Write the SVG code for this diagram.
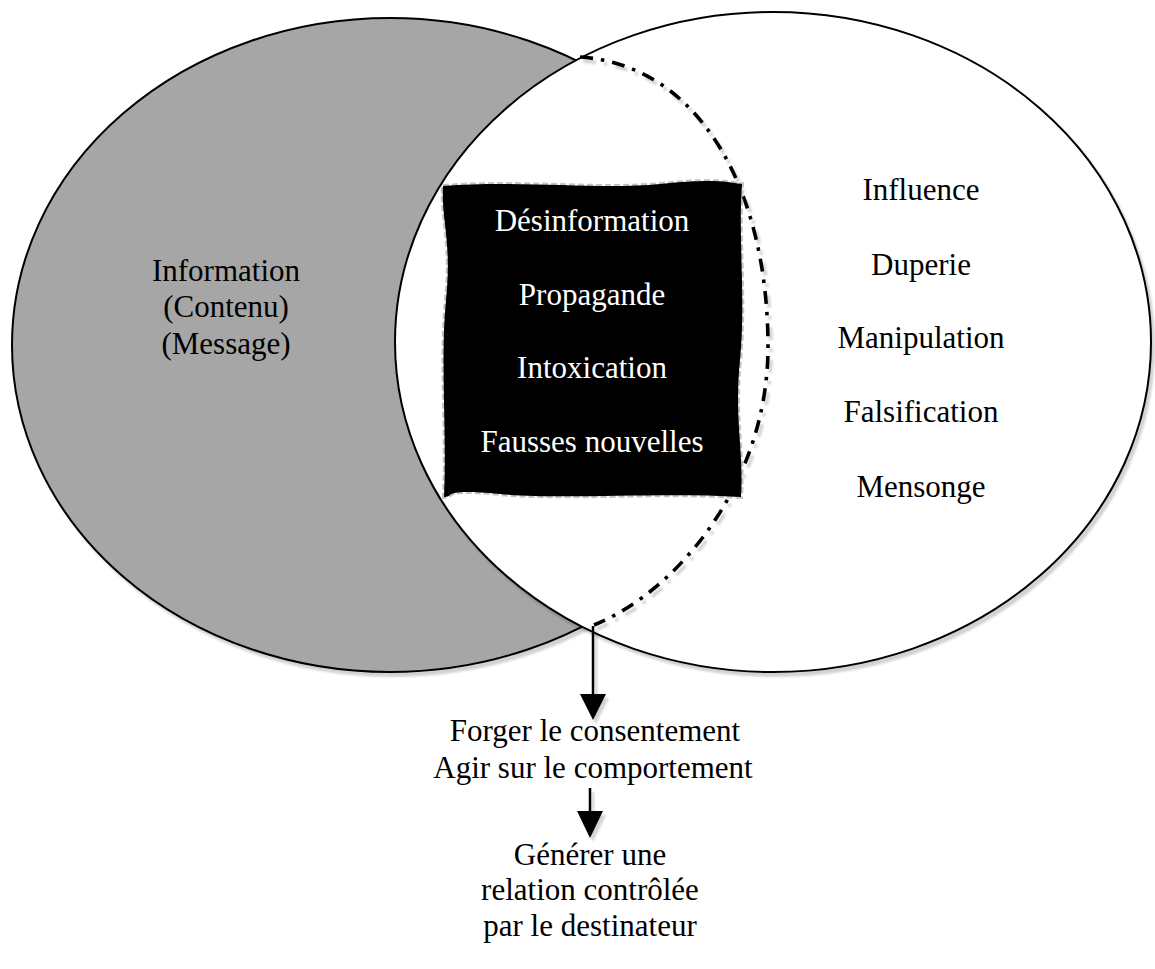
<svg xmlns="http://www.w3.org/2000/svg" width="1155" height="969" viewBox="0 0 1155 969">
  <defs>
    <filter id="shadow" x="-10%" y="-10%" width="125%" height="125%">
      <feGaussianBlur in="SourceAlpha" stdDeviation="0.8"/>
      <feOffset dx="2.5" dy="3.5" result="off"/>
      <feComponentTransfer>
        <feFuncA type="linear" slope="0.18"/>
      </feComponentTransfer>
      <feMerge>
        <feMergeNode/>
        <feMergeNode in="SourceGraphic"/>
      </feMerge>
    </filter>
    <style>
      .lbl { font-family: "Liberation Serif", "Times New Roman", serif; font-size: 31px; text-anchor: middle; fill: #000; }
      .inv { fill: #fff; }
      .outline { stroke: #000; stroke-width: 2; }
      .dashdot { fill: none; stroke: #000; stroke-width: 3.6; stroke-dasharray: 13 8 3.5 8; }
      .conn { stroke: #000; stroke-width: 2.5; fill: none; }
    </style>
  </defs>
  <rect width="1155" height="969" fill="#fff"/>

  <!-- left set: information -->
  <g id="set-information">
    <ellipse cx="390" cy="345" rx="378" ry="327" fill="#a6a6a6" class="outline" filter="url(#shadow)"/>
    <text class="lbl" x="226" y="281">Information</text>
    <text class="lbl" x="226" y="317">(Contenu)</text>
    <text class="lbl" x="226" y="354">(Message)</text>
  </g>

  <!-- right set: influence -->
  <g id="set-influence">
    <ellipse cx="773" cy="342" rx="378" ry="330" fill="#fff" class="outline" filter="url(#shadow)"/>
    <text class="lbl" x="921" y="200">Influence</text>
    <text class="lbl" x="921" y="275">Duperie</text>
    <text class="lbl" x="921" y="348">Manipulation</text>
    <text class="lbl" x="921" y="422">Falsification</text>
    <text class="lbl" x="921" y="497">Mensonge</text>
  </g>

  <!-- hidden contour of the information set, dash-dot -->
  <g id="hidden-contour" filter="url(#shadow)">
    <path class="dashdot" d="M580,57 C700,65 768,190 768,347 C768,480 680,590 594,625"/>
  </g>

  <!-- overlap: black wavy block -->
  <g id="overlap">
    <path d="M443,186 C520,180 600,190 660,184 S730,183 742,184 C738,240 746,300 740,360 S744,450 741,497 C660,492 560,500 500,494 S455,497 444,497 C447,430 440,360 446,300 S441,220 443,186 Z"
          fill="none" stroke="#c4c4c4" stroke-width="4" stroke-dasharray="6 3"/>
    <path d="M443,186 C520,180 600,190 660,184 S730,183 742,184 C738,240 746,300 740,360 S744,450 741,497 C660,492 560,500 500,494 S455,497 444,497 C447,430 440,360 446,300 S441,220 443,186 Z"
          fill="#000"/>
    <text class="lbl inv" x="592" y="231">Désinformation</text>
    <text class="lbl inv" x="592" y="305">Propagande</text>
    <text class="lbl inv" x="592" y="378">Intoxication</text>
    <text class="lbl inv" x="592" y="452">Fausses nouvelles</text>
  </g>

  <!-- connectors -->
  <g id="connectors" filter="url(#shadow)">
    <line class="conn" x1="593" y1="626" x2="593" y2="698"/>
    <polygon points="580,694 606,694 593,720" fill="#000"/>
    <line class="conn" x1="590" y1="788" x2="590" y2="814"/>
    <polygon points="577,811 603,811 590,838" fill="#000"/>
  </g>

  <!-- effects -->
  <g id="effect-consent">
    <text class="lbl" x="595" y="741">Forger le consentement</text>
    <text class="lbl" x="593" y="778">Agir sur le comportement</text>
  </g>

  <g id="effect-relation">
    <text class="lbl" x="590" y="865">Générer une</text>
    <text class="lbl" x="590" y="900">relation contrôlée</text>
    <text class="lbl" x="590" y="936">par le destinateur</text>
  </g>
</svg>
